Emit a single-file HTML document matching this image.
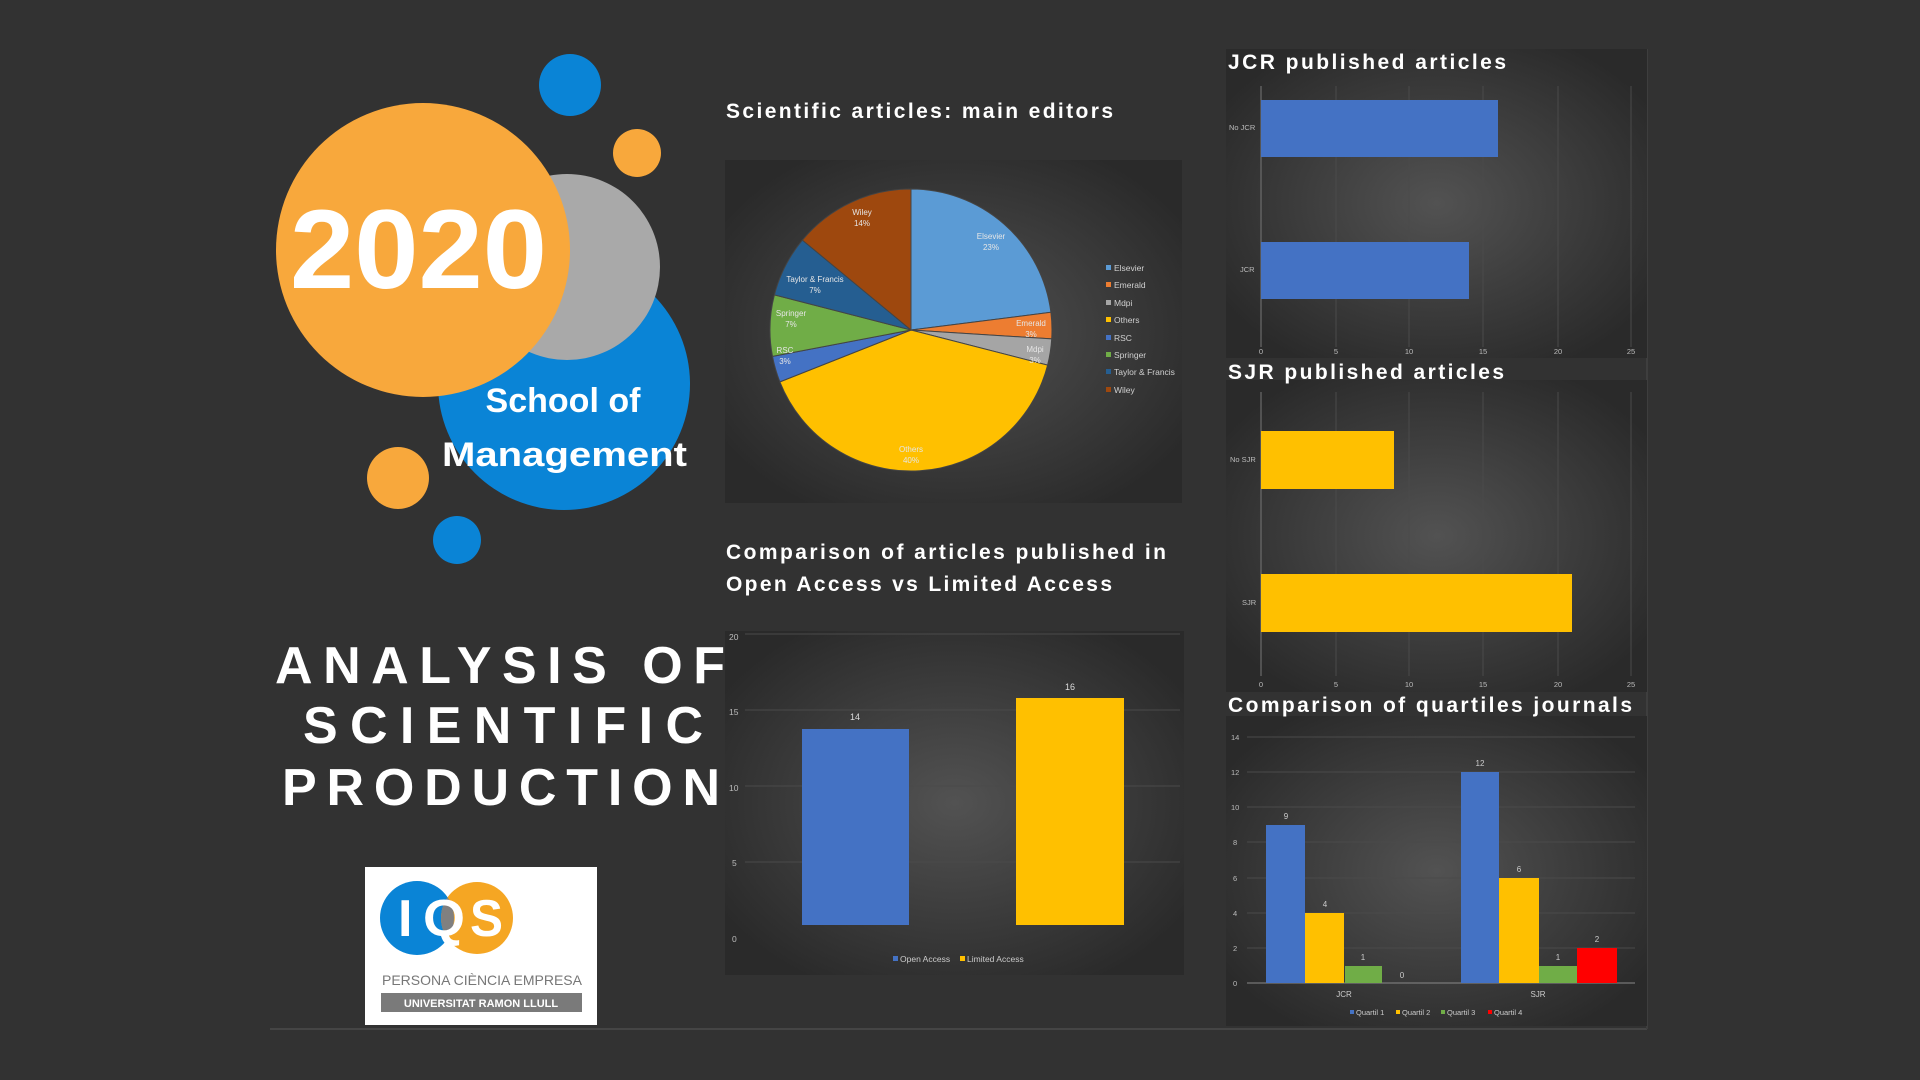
<!DOCTYPE html>
<html><head><meta charset="utf-8"><style>
html,body{margin:0;padding:0;background:#323232;}
svg{display:block;}
text{font-family:"Liberation Sans",sans-serif;}
</style></head><body>
<svg width="1920" height="1080" viewBox="0 0 1920 1080" xmlns="http://www.w3.org/2000/svg">
<defs>
<radialGradient id="pg" cx="50%" cy="50%" r="60%">
<stop offset="0" stop-color="#525252"/><stop offset="1" stop-color="#2a2a2a"/>
</radialGradient>
<clipPath id="bc"><circle cx="417" cy="918" r="37"/></clipPath>
</defs>
<rect width="1920" height="1080" fill="#323232"/>
<line x1="270" y1="1029" x2="1647" y2="1029" stroke="#454545" stroke-width="2"/>
<line x1="1647" y1="49" x2="1647" y2="1029" stroke="#3e3e3e" stroke-width="2"/>

<!-- bubbles -->
<circle cx="564" cy="384" r="126" fill="#0a84d6"/>
<circle cx="567" cy="267" r="93" fill="#a9a9a9"/>
<circle cx="423" cy="250" r="147" fill="#f8a83c"/>
<circle cx="570" cy="85" r="31" fill="#0a84d6"/>
<circle cx="637" cy="153" r="24" fill="#f8a83c"/>
<circle cx="398" cy="478" r="31" fill="#f8a83c"/>
<circle cx="457" cy="540" r="24" fill="#0a84d6"/>
<text x="290" y="288" font-size="112" font-weight="bold" fill="#fff" textLength="257" lengthAdjust="spacingAndGlyphs">2020</text>
<text x="563" y="412" font-size="34" font-weight="bold" fill="#fff" text-anchor="middle">School of</text>
<text x="442" y="466" font-size="34" font-weight="bold" fill="#fff" textLength="245" lengthAdjust="spacingAndGlyphs">Management</text>

<!-- analysis text -->
<text x="275" y="683" font-size="52" font-weight="bold" fill="#fff" textLength="450" lengthAdjust="spacing">ANALYSIS OF</text>
<text x="303" y="743" font-size="52" font-weight="bold" fill="#fff" textLength="400" lengthAdjust="spacing">SCIENTIFIC</text>
<text x="282" y="805" font-size="52" font-weight="bold" fill="#fff" textLength="438" lengthAdjust="spacing">PRODUCTION</text>

<!-- IQS logo -->
<rect x="365" y="867" width="232" height="158" fill="#fff"/>
<circle cx="417" cy="918" r="37" fill="#0a84d6"/>
<circle cx="477" cy="918" r="36" fill="#f5a623"/>
<circle cx="477" cy="918" r="36" fill="#808080" clip-path="url(#bc)"/>
<text x="398" y="936" font-size="52" font-weight="bold" fill="#fff">I</text>
<text x="423" y="936" font-size="52" font-weight="bold" fill="#fff" textLength="42" lengthAdjust="spacingAndGlyphs">Q</text>
<text x="470" y="936" font-size="52" font-weight="bold" fill="#fff" textLength="33" lengthAdjust="spacingAndGlyphs">S</text>
<text x="382" y="985" font-size="14" fill="#777" textLength="200" lengthAdjust="spacingAndGlyphs">PERSONA CIÈNCIA EMPRESA</text>
<rect x="381" y="993" width="201" height="19" fill="#7a7a7a"/>
<text x="481" y="1007" font-size="11" font-weight="bold" fill="#fff" text-anchor="middle">UNIVERSITAT RAMON LLULL</text>

<!-- Titles -->
<g font-weight="bold" font-size="21" fill="#fff">
<text x="726" y="118" textLength="387" lengthAdjust="spacing">Scientific articles: main editors</text>
<text x="726" y="559" textLength="440" lengthAdjust="spacing">Comparison of articles published in</text>
<text x="726" y="591" textLength="386" lengthAdjust="spacing">Open Access vs Limited Access</text>
</g>

<!-- Pie panel -->
<rect x="725" y="160" width="457" height="343" fill="url(#pg)"/>
<g stroke="#444" stroke-width="1">
<path d="M911,330 L911,189 A141,141 0 0 1 1050.9,312.3 Z" fill="#5b9bd5"/>
<path d="M911,330 L1050.9,312.3 A141,141 0 0 1 1051.7,338.9 Z" fill="#ed7d31"/>
<path d="M911,330 L1051.7,338.9 A141,141 0 0 1 1047.6,365.1 Z" fill="#a5a5a5"/>
<path d="M911,330 L1047.6,365.1 A141,141 0 0 1 779.9,381.9 Z" fill="#ffc000"/>
<path d="M911,330 L779.9,381.9 A141,141 0 0 1 772.5,356.4 Z" fill="#4472c4"/>
<path d="M911,330 L772.5,356.4 A141,141 0 0 1 774.4,294.9 Z" fill="#70ad47"/>
<path d="M911,330 L774.4,294.9 A141,141 0 0 1 802.4,240.1 Z" fill="#255e91"/>
<path d="M911,330 L802.4,240.1 A141,141 0 0 1 911,189 Z" fill="#9e480e"/>
</g>
<g font-size="8" fill="#e6e6e6" text-anchor="middle">
<text x="991" y="239">Elsevier</text><text x="991" y="250">23%</text>
<text x="1031" y="326">Emerald</text><text x="1031" y="337">3%</text>
<text x="1035" y="352">Mdpi</text><text x="1035" y="363">3%</text>
<text x="911" y="452">Others</text><text x="911" y="463">40%</text>
<text x="785" y="353">RSC</text><text x="785" y="364">3%</text>
<text x="791" y="316">Springer</text><text x="791" y="327">7%</text>
<text x="815" y="282">Taylor &amp; Francis</text><text x="815" y="293">7%</text>
<text x="862" y="215">Wiley</text><text x="862" y="226">14%</text>
</g>
<g font-size="8.5" fill="#d0d0d0">
<rect x="1106" y="265" width="5" height="5" fill="#5b9bd5"/><text x="1114" y="271">Elsevier</text>
<rect x="1106" y="282" width="5" height="5" fill="#ed7d31"/><text x="1114" y="288">Emerald</text>
<rect x="1106" y="300" width="5" height="5" fill="#a5a5a5"/><text x="1114" y="306">Mdpi</text>
<rect x="1106" y="317" width="5" height="5" fill="#ffc000"/><text x="1114" y="323">Others</text>
<rect x="1106" y="335" width="5" height="5" fill="#4472c4"/><text x="1114" y="341">RSC</text>
<rect x="1106" y="352" width="5" height="5" fill="#70ad47"/><text x="1114" y="358">Springer</text>
<rect x="1106" y="369" width="5" height="5" fill="#255e91"/><text x="1114" y="375">Taylor &amp; Francis</text>
<rect x="1106" y="387" width="5" height="5" fill="#9e480e"/><text x="1114" y="393">Wiley</text>
</g>

<!-- Open access bar chart -->
<rect x="725" y="631" width="459" height="344" fill="url(#pg)"/>
<g stroke="#4a4a4a" stroke-width="1">
<line x1="745" y1="634" x2="1180" y2="634"/><line x1="745" y1="710" x2="1180" y2="710"/>
<line x1="745" y1="786" x2="1180" y2="786"/><line x1="745" y1="862" x2="1180" y2="862"/>
</g>
<g font-size="8.5" fill="#bbb">
<text x="729" y="640">20</text><text x="729" y="715">15</text><text x="729" y="791">10</text>
<text x="732" y="866">5</text><text x="732" y="942">0</text>
</g>
<rect x="802" y="729" width="107" height="196" fill="#4472c4"/>
<rect x="1016" y="698" width="108" height="227" fill="#ffc000"/>
<g font-size="9" fill="#ddd" text-anchor="middle"><text x="855" y="720">14</text><text x="1070" y="690">16</text></g>
<g font-size="8.5" fill="#ccc">
<rect x="893" y="956" width="5" height="5" fill="#4472c4"/><text x="900" y="962">Open Access</text>
<rect x="960" y="956" width="5" height="5" fill="#ffc000"/><text x="967" y="962">Limited Access</text>
</g>

<!-- JCR -->
<rect x="1226" y="49" width="421" height="309" fill="url(#pg)"/>
<g stroke="#4a4a4a"><line x1="1336" y1="86" x2="1336" y2="347"/><line x1="1409" y1="86" x2="1409" y2="347"/><line x1="1483" y1="86" x2="1483" y2="347"/><line x1="1558" y1="86" x2="1558" y2="347"/><line x1="1631" y1="86" x2="1631" y2="347"/></g>
<line x1="1261" y1="86" x2="1261" y2="347" stroke="#777"/>
<rect x="1261" y="100" width="237" height="57" fill="#4472c4"/>
<rect x="1261" y="242" width="208" height="57" fill="#4472c4"/>
<g font-size="7.5" fill="#bbb">
<text x="1229" y="130">No JCR</text><text x="1240" y="272">JCR</text>
<g text-anchor="middle"><text x="1261" y="354">0</text><text x="1336" y="354">5</text><text x="1409" y="354">10</text><text x="1483" y="354">15</text><text x="1558" y="354">20</text><text x="1631" y="354">25</text></g>
</g>
<text x="1228" y="69" font-size="21" font-weight="bold" fill="#fff" textLength="278" lengthAdjust="spacing">JCR published articles</text>

<!-- SJR -->
<rect x="1226" y="380" width="421" height="312" fill="url(#pg)"/>
<g stroke="#4a4a4a"><line x1="1336" y1="392" x2="1336" y2="676"/><line x1="1409" y1="392" x2="1409" y2="676"/><line x1="1483" y1="392" x2="1483" y2="676"/><line x1="1558" y1="392" x2="1558" y2="676"/><line x1="1631" y1="392" x2="1631" y2="676"/></g>
<line x1="1261" y1="392" x2="1261" y2="676" stroke="#777"/>
<rect x="1261" y="431" width="133" height="58" fill="#ffc000"/>
<rect x="1261" y="574" width="311" height="58" fill="#ffc000"/>
<g font-size="7.5" fill="#bbb">
<text x="1230" y="462">No SJR</text><text x="1242" y="605">SJR</text>
<g text-anchor="middle"><text x="1261" y="687">0</text><text x="1336" y="687">5</text><text x="1409" y="687">10</text><text x="1483" y="687">15</text><text x="1558" y="687">20</text><text x="1631" y="687">25</text></g>
</g>
<text x="1228" y="379" font-size="21" font-weight="bold" fill="#fff" textLength="276" lengthAdjust="spacing">SJR published articles</text>

<!-- Quartiles -->
<rect x="1226" y="716" width="421" height="310" fill="url(#pg)"/>
<g stroke="#4a4a4a"><line x1="1247" y1="737" x2="1635" y2="737"/><line x1="1247" y1="772" x2="1635" y2="772"/><line x1="1247" y1="807" x2="1635" y2="807"/><line x1="1247" y1="842" x2="1635" y2="842"/><line x1="1247" y1="878" x2="1635" y2="878"/><line x1="1247" y1="913" x2="1635" y2="913"/><line x1="1247" y1="948" x2="1635" y2="948"/></g>
<line x1="1247" y1="983" x2="1635" y2="983" stroke="#888"/>
<g font-size="7.5" fill="#bbb">
<text x="1231" y="740">14</text><text x="1231" y="775">12</text><text x="1231" y="810">10</text><text x="1233" y="845">8</text><text x="1233" y="881">6</text><text x="1233" y="916">4</text><text x="1233" y="951">2</text><text x="1233" y="986">0</text>
</g>
<rect x="1266" y="825" width="39" height="158" fill="#4472c4"/>
<rect x="1305" y="913" width="39" height="70" fill="#ffc000"/>
<rect x="1345" y="966" width="37" height="17" fill="#70ad47"/>
<rect x="1461" y="772" width="38" height="211" fill="#4472c4"/>
<rect x="1499" y="878" width="40" height="105" fill="#ffc000"/>
<rect x="1539" y="966" width="38" height="17" fill="#70ad47"/>
<rect x="1577" y="948" width="40" height="35" fill="#ff0000"/>
<g font-size="8" fill="#ccc" text-anchor="middle">
<text x="1286" y="819">9</text><text x="1325" y="907">4</text><text x="1363" y="960">1</text><text x="1402" y="978">0</text>
<text x="1480" y="766">12</text><text x="1519" y="872">6</text><text x="1558" y="960">1</text><text x="1597" y="942">2</text>
<text x="1344" y="997">JCR</text><text x="1538" y="997">SJR</text>
</g>
<g font-size="7.5" fill="#ccc">
<rect x="1350" y="1010" width="4" height="4" fill="#4472c4"/><text x="1356" y="1015">Quartil 1</text>
<rect x="1396" y="1010" width="4" height="4" fill="#ffc000"/><text x="1402" y="1015">Quartil 2</text>
<rect x="1441" y="1010" width="4" height="4" fill="#70ad47"/><text x="1447" y="1015">Quartil 3</text>
<rect x="1488" y="1010" width="4" height="4" fill="#ff0000"/><text x="1494" y="1015">Quartil 4</text>
</g>
<text x="1228" y="712" font-size="21" font-weight="bold" fill="#fff" textLength="404" lengthAdjust="spacing">Comparison of quartiles journals</text>
</svg>
</body></html>
